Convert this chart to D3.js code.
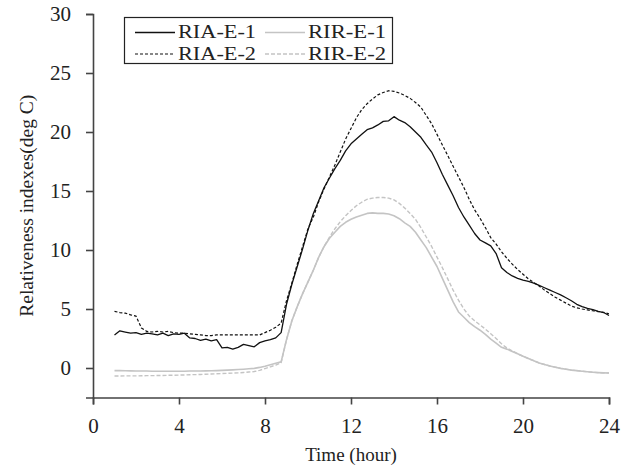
<!DOCTYPE html>
<html>
<head>
<meta charset="utf-8">
<script src="https://cdnjs.cloudflare.com/ajax/libs/d3/7.8.5/d3.min.js"></script>
<style>
  body { margin: 0; background: #fff; }
  text { font-family: "Liberation Serif", "Times New Roman", serif; fill: #222; }
</style>
</head>
<body>
<svg id="chart" width="631" height="468"></svg>
<script>
// hours 1..24 every quarter hour
var hours = d3.range(1, 24.001, 0.25);

var riaE1 = [2.8, 3.15, 3.05, 2.95, 3.0, 2.85, 2.95, 2.9, 2.8, 2.95, 2.75, 2.9,
  2.85, 2.95, 2.55, 2.5, 2.35, 2.45, 2.3, 2.4, 1.7, 1.75, 1.6, 1.75,
  2.0, 1.9, 1.8, 2.15, 2.3, 2.4, 2.55, 3.0, 5.4, 7.1, 8.6, 10.1,
  11.7, 13.1, 14.2, 15.3, 16.1, 16.9, 17.6, 18.4, 19.0, 19.4, 19.8, 20.2,
  20.35, 20.6, 20.9, 20.95, 21.3, 21.0, 20.8, 20.45, 20.0, 19.55, 18.9, 18.3,
  17.4, 16.4, 15.5, 14.6, 13.6, 12.8, 12.1, 11.4, 10.85, 10.6, 10.35, 9.7,
  8.5, 8.1, 7.8, 7.6, 7.45, 7.35, 7.2, 7.0, 6.8, 6.6, 6.4, 6.2,
  5.95, 5.7, 5.4, 5.2, 5.05, 4.95, 4.8, 4.7, 4.45];

var riaE2 = [4.8, 4.7, 4.65, 4.5, 4.4, 3.4, 3.1, 3.05, 3.1, 3.05, 3.1, 3.0,
  2.95, 2.95, 2.9, 2.85, 2.8, 2.75, 2.75, 2.8, 2.8, 2.8, 2.8, 2.8,
  2.8, 2.8, 2.8, 2.8, 3.0, 3.2, 3.45, 3.8, 5.7, 7.2, 8.8, 10.3,
  11.8, 12.8, 14.1, 15.2, 16.2, 17.2, 18.3, 19.4, 20.3, 21.2, 21.9, 22.4,
  22.8, 23.15, 23.35, 23.5, 23.45, 23.3, 23.1, 22.85, 22.5, 22.1, 21.4, 20.7,
  19.8, 18.9, 18.0, 17.1, 16.2, 15.3, 14.3, 13.4, 12.7, 11.9, 11.05, 10.5,
  9.85, 9.3, 8.8, 8.35, 7.95, 7.55, 7.25, 6.95, 6.6, 6.3, 6.0, 5.75,
  5.5, 5.25, 5.1, 5.0, 4.92, 4.85, 4.78, 4.72, 4.6];

var rirE1 = [-0.22, -0.22, -0.23, -0.24, -0.25, -0.25, -0.26, -0.27, -0.27, -0.27, -0.27, -0.27,
  -0.27, -0.27, -0.26, -0.26, -0.25, -0.24, -0.23, -0.22, -0.2, -0.18, -0.16, -0.13,
  -0.1, -0.07, -0.03, 0.05, 0.15, 0.28, 0.4, 0.52, 2.4, 4.0, 5.2, 6.3,
  7.3, 8.3, 9.4, 10.3, 11.0, 11.5, 12.0, 12.35, 12.6, 12.8, 12.95, 13.1,
  13.15, 13.1, 13.1, 13.05, 12.9, 12.65, 12.3, 12.0, 11.5, 10.85, 10.2, 9.4,
  8.6, 7.6, 6.6, 5.6, 4.75, 4.3, 3.85, 3.5, 3.2, 2.85, 2.45, 2.1,
  1.75, 1.6, 1.4, 1.2, 1.0, 0.8, 0.62, 0.43, 0.3, 0.17, 0.07, -0.03,
  -0.1, -0.18, -0.22, -0.27, -0.32, -0.36, -0.39, -0.41, -0.42];

var rirE2 = [-0.68, -0.68, -0.67, -0.67, -0.67, -0.66, -0.65, -0.65, -0.64, -0.63, -0.62, -0.61,
  -0.6, -0.59, -0.57, -0.56, -0.55, -0.53, -0.51, -0.49, -0.47, -0.45, -0.43, -0.41,
  -0.38, -0.34, -0.3, -0.2, -0.05, 0.1, 0.25, 0.45, 2.4, 4.0, 5.2, 6.3,
  7.3, 8.3, 9.4, 10.3, 11.1, 11.8, 12.4, 12.9, 13.35, 13.75, 14.05, 14.3,
  14.4, 14.45, 14.45, 14.4, 14.25, 13.95, 13.55, 13.1, 12.6, 11.9, 11.1, 10.3,
  9.4, 8.5, 7.55, 6.6, 5.75, 5.0, 4.4, 4.0, 3.65, 3.3, 2.9, 2.5,
  2.05, 1.7, 1.45, 1.2, 1.0, 0.8, 0.62, 0.43, 0.3, 0.17, 0.07, -0.03,
  -0.1, -0.18, -0.22, -0.27, -0.32, -0.36, -0.39, -0.41, -0.42];

var seriesNames = ["RIA-E-1", "RIR-E-1", "RIA-E-2", "RIR-E-2"];
var xTicks = [0, 4, 8, 12, 16, 20, 24];
var yTicks = [0, 5, 10, 15, 20, 25, 30];

var series = [
  { name: seriesNames[0], values: riaE1, color: "#111", dash: null, width: 1.3 },
  { name: seriesNames[1], values: rirE1, color: "#c4c4c4", dash: null, width: 1.6 },
  { name: seriesNames[2], values: riaE2, color: "#111", dash: "3,2", width: 1.2 },
  { name: seriesNames[3], values: rirE2, color: "#c4c4c4", dash: "4,2", width: 1.4 }
];

var svg = d3.select("#chart");

var x = d3.scaleLinear().domain([0, 24]).range([93, 609]);
var y = d3.scaleLinear().domain([-2.5, 30]).range([397.5, 14]);

var axisColor = "#444";

// x axis
var xAxisG = svg.append("g").attr("transform", "translate(0," + y(-2.5) + ")");
xAxisG.call(d3.axisBottom(x).tickValues(d3.range(2, 24, 4)).tickSize(4).tickFormat(""));
xAxisG.call(d3.axisBottom(x).tickValues(xTicks).tickSize(7).tickPadding(14));
xAxisG.selectAll("path.domain").attr("stroke", axisColor).attr("stroke-width", 1.6);
xAxisG.selectAll("line").attr("stroke", axisColor).attr("stroke-width", 1.6);
xAxisG.selectAll("text").style("font-family", "Liberation Serif").style("font-size", "21px").attr("fill", "#222");

// y axis
var yAxisG = svg.append("g").attr("transform", "translate(" + x(0) + ",0)");
yAxisG.call(d3.axisLeft(y).tickValues(d3.range(2.5, 30, 5)).tickSize(4).tickFormat(""));
yAxisG.call(d3.axisLeft(y).tickValues(yTicks).tickSize(7).tickPadding(15));
yAxisG.selectAll("path.domain").attr("stroke", axisColor).attr("stroke-width", 1.6);
yAxisG.selectAll("line").attr("stroke", axisColor).attr("stroke-width", 1.6);
yAxisG.selectAll("text").style("font-family", "Liberation Serif").style("font-size", "21px").attr("fill", "#222");

// axis titles
svg.append("text")
  .attr("x", x(12))
  .attr("y", 461)
  .attr("text-anchor", "middle")
  .style("font-size", "19px")
  .text("Time (hour)");

svg.append("text")
  .attr("transform", "translate(33," + y(13.75) + ") rotate(-90)")
  .attr("text-anchor", "middle")
  .style("font-size", "19.5px")
  .text("Relativeness indexes(deg C)");

// lines
var line = d3.line()
  .x(function(d, i) { return x(hours[i]); })
  .y(function(d) { return y(d); });

// draw grey first, black on top
[series[1], series[3], series[0], series[2]].forEach(function(s) {
  svg.append("path")
    .datum(s.values)
    .attr("fill", "none")
    .attr("stroke", s.color)
    .attr("stroke-width", s.width)
    .attr("stroke-dasharray", s.dash)
    .attr("stroke-linejoin", "round")
    .attr("d", line);
});

// legend
var legend = svg.append("g");
legend.append("rect")
  .attr("x", 124.5).attr("y", 17.5)
  .attr("width", 268).attr("height", 46)
  .attr("fill", "#fff")
  .attr("stroke", "#222")
  .attr("stroke-width", 1.2);

var legItems = legend.selectAll("g.item")
  .data(series)
  .enter().append("g")
  .attr("transform", function(d, i) {
    var col = i % 2, row = Math.floor(i / 2);
    return "translate(" + (135 + col * 130) + "," + (32.5 + row * 21.5) + ")";
  });

legItems.append("line")
  .attr("x1", 0).attr("x2", 40)
  .attr("stroke", function(d) { return d.color; })
  .attr("stroke-width", function(d) { return d.width; })
  .attr("stroke-dasharray", function(d) { return d.dash; });

legItems.append("text")
  .attr("x", 43)
  .attr("y", 5.5)
  .attr("textLength", 78)
  .attr("lengthAdjust", "spacingAndGlyphs")
  .style("font-size", "19.5px")
  .text(function(d) { return d.name; });
</script>
</body>
</html>
